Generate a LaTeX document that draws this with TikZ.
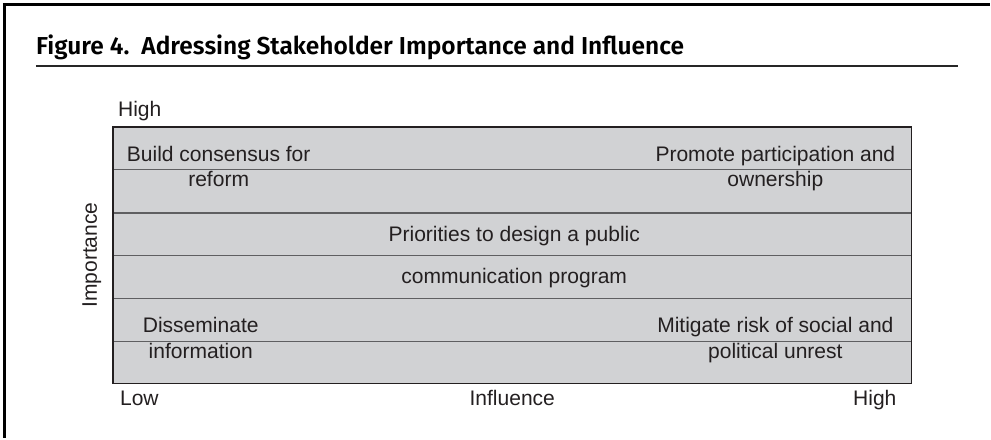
\documentclass[tikz,border=0pt]{standalone}
\usepackage{fontspec}
\setmainfont{Liberation Sans}
\newfontfamily\titlefont{Fira Sans}[BoldFont={Fira Sans SemiBold}]
\usepackage{tikz}

\definecolor{bandfill}{RGB}{209,210,212}
\definecolor{bandline}{RGB}{95,95,97}
\definecolor{inkgray}{RGB}{35,31,32}

\tikzset{
  lbl/.style={inner sep=0pt, text=inkgray, font=\fontsize{15.8pt}{18.75pt}\selectfont},
}

\begin{document}
\begin{tikzpicture}[x=0.75pt,y=0.75pt,yscale=-1,xscale=1]
\path (0,0) rectangle (991,439); %set diagram at 991 x 439

%Straight Lines [id:frametop] 
\draw [line width=2.2pt]   (3,4.5) -- (991,4.5) ;
%Straight Lines [id:frameleft] 
\draw [line width=2.2pt]   (4.5,3) -- (4.5,439) ;

% Text Node
\draw (36,55) node [anchor=base west] [inner sep=0pt, text=black, font=\titlefont\bfseries\fontsize{18.4pt}{22pt}\selectfont] (title) {Figure 4.\ \ Adressing Stakeholder Importance and Influence};
%Straight Lines [id:titlerule] 
\draw [line width=1.4pt, color=black!85]   (36,66) -- (959,66) ;

%Shape: Rectangle [id:grid] 
\draw  [fill=bandfill, draw=none]  (113,127) rectangle (913,384) ;
%Straight Lines [id:band1] 
\draw [color=bandline, line width=0.9pt]   (113,170) -- (913,170) ;
%Straight Lines [id:band2] 
\draw [color=bandline, line width=0.9pt]   (113,213.3) -- (913,213.3) ;
%Straight Lines [id:band3] 
\draw [color=bandline, line width=0.9pt]   (113,255.7) -- (913,255.7) ;
%Straight Lines [id:band4] 
\draw [color=bandline, line width=0.9pt]   (113,299) -- (913,299) ;
%Straight Lines [id:band5] 
\draw [color=bandline, line width=0.9pt]   (113,341.7) -- (913,341.7) ;
%Shape: Rectangle [id:gridframe] 
\draw  [color=inkgray, line width=1.2pt]  (113,127) rectangle (913,384) ;

% Text Node
\draw (118,116.5) node [anchor=base west] [lbl] (imphigh) {High};
% Text Node
\draw (92,255.5) node [anchor=center, rotate=90] [lbl] (impaxis) {Importance};
% Text Node
\draw (120,406.5) node [anchor=base west] [lbl] (inflow) {Low};
% Text Node
\draw (513,406.5) node [anchor=base] [lbl] (infaxis) {Influence};
% Text Node
\draw (898,406.5) node [anchor=base east] [lbl] (infhigh) {High};

% Text Node
\draw (219,161.7) node [anchor=base] [lbl] (consensusa) {Build consensus for};
\draw (219,186.7) node [anchor=base] [lbl] (consensusb) {reform};
% Text Node
\draw (776.5,161.7) node [anchor=base] [lbl] (promotea) {Promote participation and};
\draw (776.5,186.7) node [anchor=base] [lbl] (promoteb) {ownership};
% Text Node
\draw (515,241.7) node [anchor=base] [lbl] (prioritya) {Priorities to design a public};
\draw (515,284.3) node [anchor=base] [lbl] (priorityb) {communication program};
% Text Node
\draw (201,333.3) node [anchor=base] [lbl] (dissema) {Disseminate};
\draw (201,359.3) node [anchor=base] [lbl] (dissemb) {information};
% Text Node
\draw (776.5,333.3) node [anchor=base] [lbl] (mitigatea) {Mitigate risk of social and};
\draw (776.5,359.3) node [anchor=base] [lbl] (mitigateb) {political unrest};

\end{tikzpicture}
\end{document}
